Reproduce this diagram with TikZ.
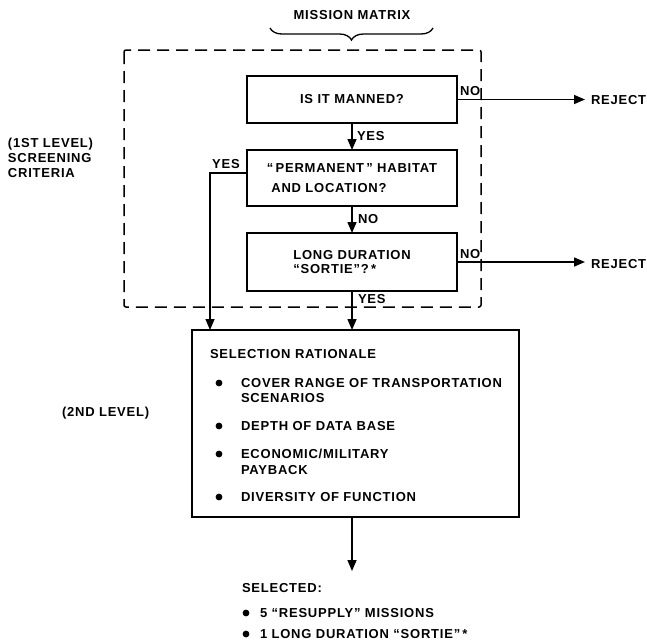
\documentclass[tikz,border=0pt]{standalone}
\usepackage{fontspec}
\setmainfont{Liberation Sans}[LetterSpace=6]
\usetikzlibrary{arrows.meta,decorations.pathreplacing}
\begin{document}
\begin{tikzpicture}[x=1pt,y=-1pt,
  every node/.style={font=\fontsize{13}{15}\selectfont\bfseries, inner sep=0pt, outer sep=0pt},
  box/.style={draw, line width=1.6pt, rectangle, align=left},
  conn/.style={line width=1.5pt},
  arr/.style={conn, -{Triangle[length=11pt,width=9pt]}},
  lbl/.style={anchor=west},
  dot/.style={fill=black},
]
\useasboundingbox (0,0) rectangle (647,641);

% title and brace
\node (title) at (352,15) {MISSION MATRIX};
\draw[decorate, decoration={brace, amplitude=12pt, mirror}, line width=1.3pt] (270,28) -- (433,28);

% dashed screening frame
\draw[line width=1.5pt, dash pattern=on 12pt off 7pt, rounded corners=2pt] (124,50) rectangle (481,307);

% side labels
\node[lbl, align=left] (lvl1) at (8,158) {(1ST LEVEL)\\SCREENING\\CRITERIA};
\node[lbl] (lvl2) at (62,413) {(2ND LEVEL)};

% decision boxes
\node[box, minimum width=210pt, minimum height=47pt] (b1) at (352,99.5) {IS IT MANNED?};
\node[box, minimum width=210pt, minimum height=56pt, font=\fontsize{13}{20}\selectfont\bfseries] (b2) at (352,178) {``\,PERMANENT\,'' HABITAT\\\ AND LOCATION?};
\node[box, minimum width=210pt, minimum height=58pt, font=\fontsize{13}{13.5}\selectfont\bfseries] (b3) at (352,262) {LONG DURATION\\``SORTIE''?\,*};

% selection rationale box
\node[box, minimum width=327pt, minimum height=187pt] (sel) at (355.5,423.5) {};
\node[lbl] (selt) at (210,354) {SELECTION RATIONALE};
\node[lbl, align=left] (s1) at (241,390.5) {COVER RANGE OF TRANSPORTATION\\SCENARIOS};
\node[lbl, align=left, font=\fontsize{13}{16}\selectfont\bfseries] (s3) at (241,462) {ECONOMIC/MILITARY\\PAYBACK};
\node[lbl] (s2) at (241,426) {DEPTH OF DATA BASE};
\node[lbl] (s4) at (241,497) {DIVERSITY OF FUNCTION};
\fill[dot] (219,383) circle (3.4pt);
\fill[dot] (219,426) circle (3.4pt);
\fill[dot] (219,454) circle (3.4pt);
\fill[dot] (219,497) circle (3.4pt);

% result
\node[lbl] (selected) at (242,588) {SELECTED:};
\node[lbl] (r1) at (260,613) {5 ``RESUPPLY'' MISSIONS};
\node[lbl] (r2) at (260,634) {1 LONG DURATION ``SORTIE''\,*};
\fill[dot] (246,613) circle (3.4pt);
\fill[dot] (246,634) circle (3.4pt);
\coordinate (selend) at (352,571);

% reject nodes
\node[lbl] (rej1) at (591,100) {REJECT};
\node[lbl] (rej2) at (591,264) {REJECT};

% connectors
\draw[arr] (b1.south) -- (b2.north) node[midway, anchor=west, xshift=5pt] {YES};
\draw[arr] (b2.south) -- (b3.north) node[midway, anchor=west, xshift=6pt] {NO};
\draw[arr] (b3.south) -- (b3.south |- sel.north);
\node[lbl] (yes3) at (358,299) {YES};
\draw[arr] ([yshift=5pt]b2.west) -| ([xshift=18pt]sel.north west);
\node (yes2) at (226,164) {YES};
\draw[arr] (b1.east) -- ([xshift=-6pt]rej1.west |- b1.east);
\node[lbl] (no1) at (460,91) {NO};
\draw[arr] (b3.east) -- ([xshift=-6pt]rej2.west |- b3.east);
\node[lbl] (no3) at (460,254) {NO};
\draw[arr] (sel.south -| b3.south) -- (selend);
\end{tikzpicture}
\end{document}
